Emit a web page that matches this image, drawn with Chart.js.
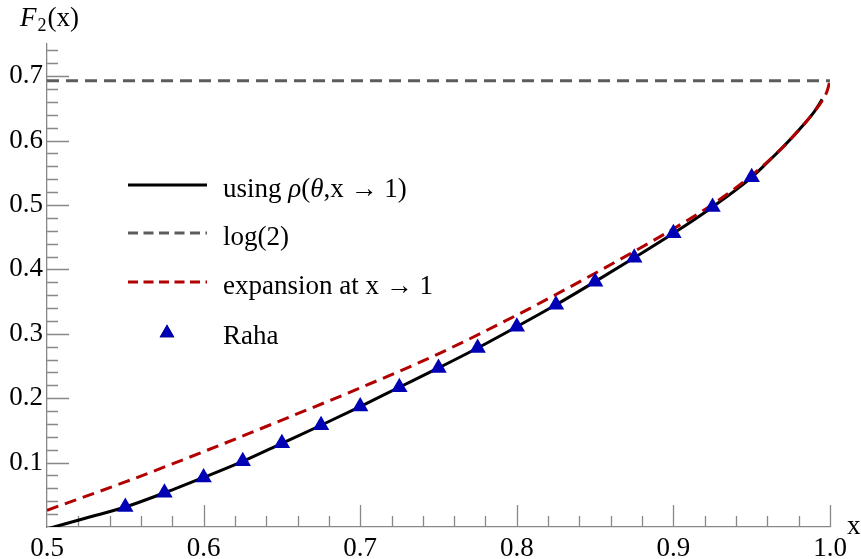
<!DOCTYPE html>
<html>
<head>
<meta charset="utf-8">
<script src="https://cdn.jsdelivr.net/npm/chart.js@4.4.1/dist/chart.umd.min.js"></script>
<style>
  html, body { margin: 0; padding: 0; background: #fff; }
  #wrap { width: 861px; height: 559px; }
</style>
</head>
<body>
<div id="wrap"><canvas id="f2Chart" width="861" height="559"></canvas></div>
<script>
// values
const curveX = [0.5, 0.525, 0.55, 0.575, 0.6, 0.625, 0.65, 0.675, 0.7, 0.725, 0.75, 0.775, 0.8, 0.825, 0.85, 0.875, 0.9, 0.925, 0.95, 0.96, 0.97, 0.98, 0.99, 0.995];
const curveY = [-0.003, 0.014, 0.031, 0.053, 0.077, 0.102, 0.130, 0.158, 0.187, 0.217, 0.247, 0.278, 0.311, 0.345, 0.381, 0.418, 0.456, 0.497, 0.543, 0.566, 0.590, 0.616, 0.645, 0.664];

const log2X = [0.5, 1.0];
const log2Y = [0.6931, 0.6931];

const expX = [0.5, 0.55, 0.6, 0.65, 0.7, 0.75, 0.8, 0.825, 0.85, 0.875, 0.9, 0.925, 0.95, 0.97, 0.98, 0.99, 0.995, 0.998, 1.0];
const expY = [0.026, 0.070, 0.117, 0.166, 0.216, 0.269, 0.329, 0.361, 0.394, 0.428, 0.463, 0.501, 0.546, 0.590, 0.616, 0.645, 0.662, 0.676, 0.693];

const rahaX = [0.55, 0.575, 0.6, 0.625, 0.65, 0.675, 0.7, 0.725, 0.75, 0.775, 0.8, 0.825, 0.85, 0.875, 0.9, 0.925, 0.95];
const rahaY = [0.031, 0.053, 0.077, 0.102, 0.130, 0.158, 0.187, 0.217, 0.247, 0.278, 0.311, 0.345, 0.381, 0.418, 0.456, 0.497, 0.543];

const xTicks = [0.5, 0.6, 0.7, 0.8, 0.9, 1.0];
const yTicks = [0.1, 0.2, 0.3, 0.4, 0.5, 0.6, 0.7];

const serif = "'Liberation Serif', 'Times New Roman', serif";
const toPoints = (xs, ys) => xs.map((x, i) => ({ x: x, y: ys[i] }));

// inward ticks like Mathematica (major every 0.1, minor every 0.02)
const innerTicks = {
    id: 'innerTicks',
    beforeDatasetsDraw(chart) {
        const ctx = chart.ctx;
        const xs = chart.scales.x, ys = chart.scales.y;
        const area = chart.chartArea;
        ctx.save();
        ctx.strokeStyle = '#888';
        ctx.lineWidth = 1.3;
        ctx.beginPath();
        for (let i = 1; i <= 25; i++) {
            const px = Math.round(xs.getPixelForValue(0.5 + i * 0.02)) + 0.5;
            const len = i % 5 === 0 ? 22 : 11;
            ctx.moveTo(px, area.bottom);
            ctx.lineTo(px, area.bottom - len);
        }
        for (let j = 1; j <= 37; j++) {
            const py = Math.round(ys.getPixelForValue(j * 0.02)) + 0.5;
            const len = j % 5 === 0 ? 22 : 11;
            ctx.moveTo(area.left, py);
            ctx.lineTo(area.left + len, py);
        }
        ctx.stroke();
        ctx.restore();
    }
};

// axis labels + legend drawn inside the plot
const insideLegend = {
    id: 'insideLegend',
    afterDraw(chart) {
        const ctx = chart.ctx;
        const area = chart.chartArea;
        ctx.save();
        ctx.fillStyle = '#000';
        ctx.textBaseline = 'alphabetic';

        // F_2(x) at top of the y axis
        ctx.font = 'italic 27px ' + serif;
        ctx.fillText('F', 20, 26);
        let w = ctx.measureText('F').width;
        ctx.font = '18px ' + serif;
        ctx.fillText('2', 20 + w + 1, 31);
        w += ctx.measureText('2').width + 1;
        ctx.font = '27px ' + serif;
        ctx.fillText('(x)', 20 + w + 1, 26);

        // x at the end of the x axis
        ctx.fillText('x', area.right + 17, area.bottom + 7);

        const rows = [185, 233, 282, 332];
        chart.data.datasets.forEach((ds, i) => {
            const y = rows[i];
            if (ds.showLine) {
                ctx.save();
                ctx.strokeStyle = ds.borderColor;
                ctx.lineWidth = ds.borderWidth;
                ctx.setLineDash(ds.borderDash ? [10, 5.5] : []);
                ctx.beginPath();
                ctx.moveTo(128, y);
                ctx.lineTo(207, y);
                ctx.stroke();
                ctx.restore();
            } else {
                Chart.helpers.drawPoint(ctx, {
                    pointStyle: ds.pointStyle, radius: 8.5, borderWidth: 0
                }, 167, y + 1);
                ctx.fillStyle = ds.backgroundColor;
                ctx.fill();
                ctx.fillStyle = '#000';
            }
            let x = 223;
            for (const ch of ds.label) {
                ctx.font = (/[\u03b1-\u03c9]/.test(ch) ? 'italic ' : '') + '27px ' + serif;
                ctx.fillText(ch, x, y + 12);
                x += ctx.measureText(ch).width;
            }
        });
        ctx.restore();
    }
};

new Chart(document.getElementById('f2Chart'), {
    type: 'scatter',
    data: {
        datasets: [{
            label: 'using ρ(θ,x → 1)',
            data: toPoints(curveX, curveY),
            showLine: true,
            borderColor: '#000000',
            borderWidth: 3,
            pointRadius: 0,
            cubicInterpolationMode: 'monotone',
            order: 2
        }, {
            label: 'log(2)',
            data: toPoints(log2X, log2Y),
            showLine: true,
            borderColor: '#5c5c5c',
            borderWidth: 3,
            borderDash: [12, 7],
            pointRadius: 0,
            order: 3
        }, {
            label: 'expansion at x → 1',
            data: toPoints(expX, expY),
            showLine: true,
            borderColor: '#b20000',
            borderWidth: 3,
            borderDash: [12, 7],
            pointRadius: 0,
            cubicInterpolationMode: 'monotone',
            order: 1
        }, {
            label: 'Raha',
            data: toPoints(rahaX, rahaY),
            showLine: false,
            pointStyle: 'triangle',
            pointRadius: 9.5,
            pointBorderWidth: 0,
            backgroundColor: '#0000b4',
            borderColor: '#0000b4',
            order: 0
        }]
    },
    options: {
        responsive: false,
        animation: false,
        layout: { padding: { top: 44, right: 31, left: 0, bottom: 0 } },
        plugins: {
            legend: { display: false },
            tooltip: { enabled: false }
        },
        scales: {
            x: {
                type: 'linear',
                min: 0.5,
                max: 1.0,
                grid: { display: false, drawTicks: false },
                border: { display: true, color: '#888', width: 1.3 },
                afterBuildTicks: s => { s.ticks = xTicks.map(v => ({ value: v })); },
                afterFit: s => { s.height = 32; },
                ticks: {
                    autoSkip: false,
                    maxRotation: 0,
                    padding: 6,
                    color: '#000',
                    font: { family: serif, size: 27 },
                    callback: v => v.toFixed(1)
                }
            },
            y: {
                min: 0,
                max: 0.75,
                grid: { display: false, drawTicks: false },
                border: { display: true, color: '#888', width: 1.3 },
                afterBuildTicks: s => { s.ticks = yTicks.map(v => ({ value: v })); },
                afterFit: s => { s.width = 47; },
                ticks: {
                    autoSkip: false,
                    padding: 4,
                    color: '#000',
                    font: { family: serif, size: 27 },
                    callback: v => v.toFixed(1)
                }
            }
        }
    },
    plugins: [innerTicks, insideLegend]
});
</script>
</body>
</html>
